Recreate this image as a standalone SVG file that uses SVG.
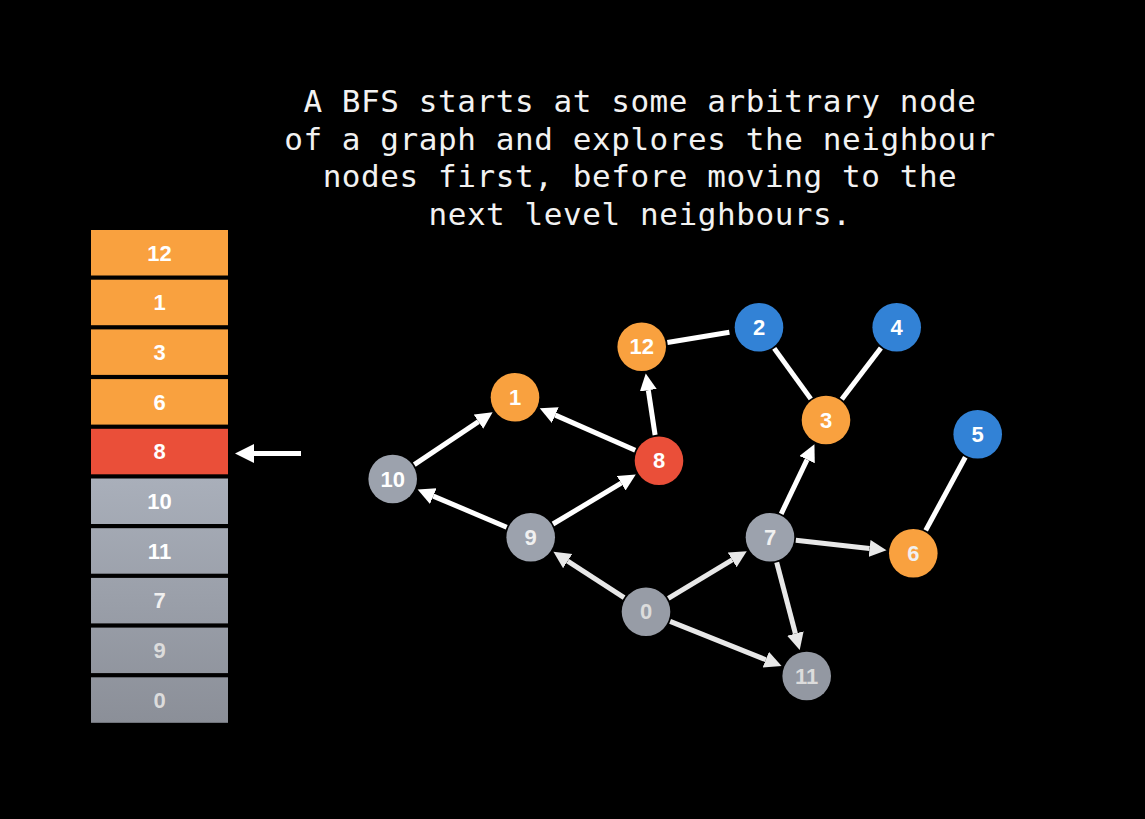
<svg xmlns="http://www.w3.org/2000/svg" width="1145" height="819" viewBox="0 0 1145 819">
<defs>
<style>
.title{font-family:"DejaVu Sans Mono","Liberation Mono",monospace;font-size:31px;letter-spacing:0.57px;fill:#F2F2F2;text-anchor:middle}
.lbl{font-family:"Liberation Sans",Arial,sans-serif;font-weight:bold;font-size:22px;text-anchor:middle;dominant-baseline:central}
.w{fill:#FFFFFF}
.g1{fill:#F0F0F0}
.g2{fill:#DCDCDC}
.orange{fill:#F9A13F}
.red{fill:#EA4F39}
.blue{fill:#3282D6}
.gray{fill:#9CA2AD}
.edge{stroke:#FFFFFF;stroke-width:5;fill:none}
.edge2{stroke:#E8E8E8;stroke-width:5;fill:none}
</style>
<linearGradient id="gstack" gradientUnits="userSpaceOnUse" x1="0" y1="478" x2="0" y2="723">
<stop offset="0" stop-color="#A9AFBA"/>
<stop offset="1" stop-color="#8B8F98"/>
</linearGradient>
<marker id="ah" markerUnits="userSpaceOnUse" markerWidth="18" markerHeight="18" refX="0" refY="8.5" orient="auto">
<path d="M0,0 L17,8.5 L0,17 Z" fill="#FFFFFF"/>
</marker>
<marker id="ah2" markerUnits="userSpaceOnUse" markerWidth="18" markerHeight="18" refX="0" refY="8.5" orient="auto">
<path d="M0,0 L17,8.5 L0,17 Z" fill="#E8E8E8"/>
</marker>
</defs>
<rect x="0" y="0" width="1145" height="819" fill="#000000"/>

<g id="title">
<text class="title" x="640" y="112">A BFS starts at some arbitrary node</text>
<text class="title" x="640" y="149.5">of a graph and explores the neighbour</text>
<text class="title" x="640" y="187">nodes first, before moving to the</text>
<text class="title" x="640" y="224.5">next level neighbours.</text>
</g>

<g id="stack">
<g id="s12"><rect class="orange" x="91" y="230" width="137" height="45.5"/><text class="lbl w" x="159.5" y="253">12</text></g>
<g id="s1"><rect class="orange" x="91" y="279.7" width="137" height="45.5"/><text class="lbl w" x="159.5" y="302.7">1</text></g>
<g id="s3"><rect class="orange" x="91" y="329.4" width="137" height="45.5"/><text class="lbl w" x="159.5" y="352.4">3</text></g>
<g id="s6"><rect class="orange" x="91" y="379.1" width="137" height="45.5"/><text class="lbl w" x="159.5" y="402.1">6</text></g>
<g id="s8"><rect class="red" x="91" y="428.8" width="137" height="45.5"/><text class="lbl w" x="159.5" y="451.8">8</text></g>
<g id="s10"><rect fill="url(#gstack)" x="91" y="478.5" width="137" height="45.5"/><text class="lbl w" x="159.5" y="501.5">10</text></g>
<g id="s11"><rect fill="url(#gstack)" x="91" y="528.2" width="137" height="45.5"/><text class="lbl w" x="159.5" y="551.2">11</text></g>
<g id="s7"><rect fill="url(#gstack)" x="91" y="577.9" width="137" height="45.5"/><text class="lbl g1" x="159.5" y="600.9">7</text></g>
<g id="s9"><rect fill="url(#gstack)" x="91" y="627.6" width="137" height="45.5"/><text class="lbl g2" x="159.5" y="650.6">9</text></g>
<g id="s0"><rect fill="url(#gstack)" x="91" y="677.3" width="137" height="45.5"/><text class="lbl g2" x="159.5" y="700.3">0</text></g>
</g>

<g id="pointer">
<line class="edge" x1="301" y1="453.5" x2="253" y2="453.5"/>
<path d="M235,453.5 L254,444 L254,463 Z" fill="#FFFFFF"/>
</g>

<g id="connectors">
<line class="edge" x1="414.3" y1="464.6" x2="478.5" y2="421.7" marker-end="url(#ah)"/>
<line class="edge" x1="635.2" y1="450.2" x2="555.3" y2="415.1" marker-end="url(#ah)"/>
<line class="edge" x1="506.7" y1="527.2" x2="433.3" y2="496.1" marker-end="url(#ah)"/>
<line class="edge" x1="553.0" y1="524.0" x2="621.2" y2="483.2" marker-end="url(#ah)"/>
<line class="edge" x1="655.1" y1="435.0" x2="648.3" y2="390.2" marker-end="url(#ah)"/>
<line class="edge2" x1="624.1" y1="597.6" x2="567.7" y2="561.1" marker-end="url(#ah2)"/>
<line class="edge2" x1="668.3" y1="598.3" x2="732.2" y2="559.9" marker-end="url(#ah2)"/>
<line class="edge2" x1="670.1" y1="621.4" x2="765.8" y2="659.7" marker-end="url(#ah2)"/>
<line class="edge2" x1="776.7" y1="562.4" x2="795.4" y2="633.5" marker-end="url(#ah2)"/>
<line class="edge" x1="781.2" y1="513.8" x2="807.1" y2="459.7" marker-end="url(#ah)"/>
<line class="edge2" x1="795.8" y1="540.2" x2="869.6" y2="548.4" marker-end="url(#ah2)"/>
<line class="edge" x1="667.4" y1="342.5" x2="729.4" y2="332.2"/>
<line class="edge" x1="774.2" y1="348.4" x2="810.8" y2="398.9"/>
<line class="edge" x1="880.9" y1="348.0" x2="841.8" y2="399.3"/>
<line class="edge" x1="965.3" y1="457.2" x2="925.7" y2="530.4"/>
</g>

<g id="n12"><circle class="orange" cx="641.7" cy="346.7" r="24.3"/><text class="lbl w" x="641.7" y="346.7">12</text></g>
<g id="n1"><circle class="orange" cx="515" cy="397.3" r="24.3"/><text class="lbl w" x="515" y="397.3">1</text></g>
<g id="n10"><circle class="gray" cx="392.7" cy="479" r="24.3"/><text class="lbl w" x="392.7" y="479">10</text></g>
<g id="n9"><circle class="gray" cx="530.7" cy="537.3" r="24.3"/><text class="lbl g1" x="530.7" y="537.3">9</text></g>
<g id="n8"><circle class="red" cx="659" cy="460.7" r="24.3"/><text class="lbl w" x="659" y="460.7">8</text></g>
<g id="n2"><circle class="blue" cx="759" cy="327.3" r="24.3"/><text class="lbl w" x="759" y="327.3">2</text></g>
<g id="n4"><circle class="blue" cx="896.7" cy="327.3" r="24.3"/><text class="lbl w" x="896.7" y="327.3">4</text></g>
<g id="n3"><circle class="orange" cx="826" cy="420" r="24.3"/><text class="lbl w" x="826" y="420">3</text></g>
<g id="n5"><circle class="blue" cx="977.7" cy="434.3" r="24.3"/><text class="lbl w" x="977.7" y="434.3">5</text></g>
<g id="n7"><circle class="gray" cx="770" cy="537.3" r="24.3"/><text class="lbl g1" x="770" y="537.3">7</text></g>
<g id="n6"><circle class="orange" cx="913.3" cy="553.3" r="24.3"/><text class="lbl g1" x="913.3" y="553.3">6</text></g>
<g id="n0"><circle fill="#979CA6" cx="646" cy="611.7" r="24.3"/><text class="lbl g2" x="646" y="611.7">0</text></g>
<g id="n11"><circle fill="#9398A2" cx="806.7" cy="676" r="24.3"/><text class="lbl g2" x="806.7" y="676">11</text></g>
</svg>
